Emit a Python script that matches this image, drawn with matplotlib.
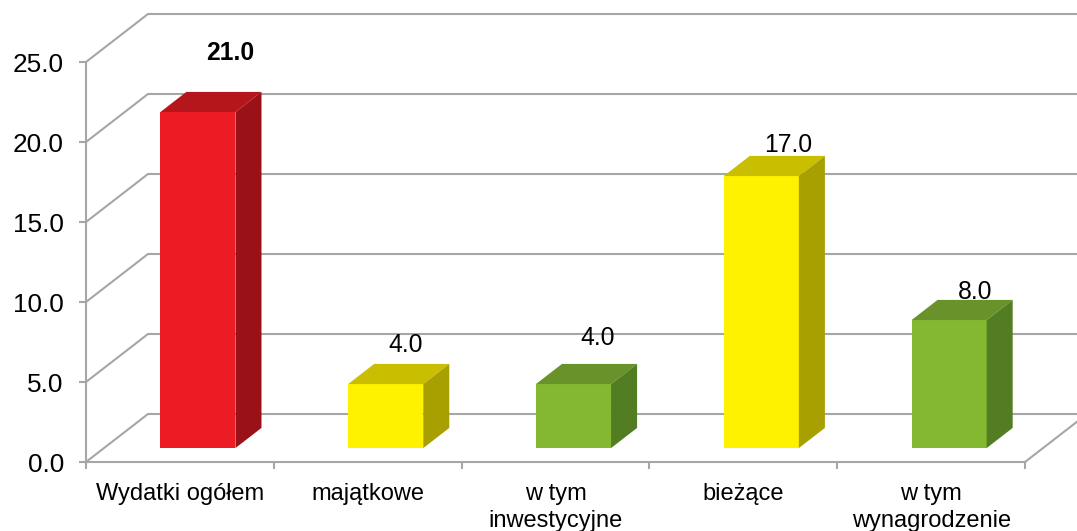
import matplotlib
matplotlib.use("Agg")
import matplotlib.pyplot as plt
from matplotlib.patches import Polygon
from matplotlib.ticker import FixedLocator

categories = ["Wydatki ogółem", "majątkowe", "w tym\ninwestycyjne", "bieżące", "w tym\nwynagrodzenie"]
values = [21.0, 4.0, 4.0, 17.0, 8.0]
value_labels = ["21.0", "4.0", "4.0", "17.0", "8.0"]
yticks = [0, 5, 10, 15, 20, 25]
ytick_labels = ["0.0", "5.0", "10.0", "15.0", "20.0", "25.0"]

# colours: (front, top, side)
palette = {
    "red": ("#ED1C24", "#B5161C", "#9A1218"),
    "yellow": ("#FFF200", "#C9BF00", "#A89F00"),
    "green": ("#84B830", "#6A922A", "#527D22"),
}
bar_colors = ["red", "yellow", "green", "yellow", "green"]
label_bold = [True, False, False, False, False]
label_dx = [0.17, 0.105, 0.13, 0.145, 0.14]   # label offsets (category units)
label_dy = [3.7, 2.45, 2.85, 1.93, 1.78]     # label offsets (value units)

plt.rcParams["font.family"] = ["Liberation Sans", "DejaVu Sans"]

W, H = 1077, 531
fig = plt.figure(figsize=(W / 100, H / 100), dpi=100)
x0, x1, y0, y1 = 86, 1025, 62, 462
ax = fig.add_axes([x0 / W, (H - y1) / H, (x1 - x0) / W, (y1 - y0) / H])
ax.set_xlim(-0.5, len(categories) - 0.5)
ax.set_ylim(0, 25)

grid_c = "#A6A6A6"
lw = 1.5
# depth offset in data units (62 px right, 48 px up)
px_x = (x1 - x0) / len(categories)
px_y = (y1 - y0) / 25
DX = 62 / px_x
DY = 48 / px_y
xl, xr = -0.5, len(categories) - 0.5
xfar = xl + (W - x0) / px_x + 0.2

# walls / gridlines
for v in yticks:
    ax.plot([xl, xl + DX, xfar], [v, v + DY, v + DY], color=grid_c, lw=lw,
            clip_on=False, zorder=1, solid_capstyle="butt")
# floor right edge
ax.plot([xr, xr + DX], [0, DY], color=grid_c, lw=lw, clip_on=False, zorder=1)

# bars
bw = 0.4
f0, f1 = 0.29, 0.71
for i, (v, c) in enumerate(zip(values, bar_colors)):
    front, top, side = palette[c]
    ox, oy = f0 * DX, f0 * DY
    bx, by = (f1 - f0) * DX, (f1 - f0) * DY
    L = i - bw / 2 + ox
    R = i + bw / 2 + ox
    B = oy
    T = v + oy
    ax.add_patch(Polygon([(L, B), (R, B), (R, T), (L, T)], closed=True,
                         facecolor=front, edgecolor="none", zorder=3, clip_on=False))
    ax.add_patch(Polygon([(L, T), (R, T), (R + bx, T + by), (L + bx, T + by)], closed=True,
                         facecolor=top, edgecolor="none", zorder=3, clip_on=False))
    ax.add_patch(Polygon([(R, B), (R + bx, B + by), (R + bx, T + by), (R, T)], closed=True,
                         facecolor=side, edgecolor="none", zorder=3, clip_on=False))
    ax.text(i + label_dx[i] + ox, v + oy + label_dy[i], value_labels[i],
            ha="center", va="center", fontsize=17.8,
            fontweight="bold" if label_bold[i] else "normal", color="black", zorder=5)

# axes styling
for s in ["top", "right"]:
    ax.spines[s].set_visible(False)
for s in ["left", "bottom"]:
    ax.spines[s].set_color(grid_c)
    ax.spines[s].set_linewidth(lw)
    ax.spines[s].set_zorder(2)
ax.set_facecolor("none")
ax.set_yticks(yticks)
ax.set_yticklabels(ytick_labels)
for t in ax.get_yticklabels():
    t.set_y(t.get_position()[1])
ax.tick_params(axis="y", length=5, width=lw, color=grid_c, pad=11, labelsize=18.8)
ax.set_xticks(range(len(categories)))
ax.set_xticklabels(categories, linespacing=1.3)
ax.tick_params(axis="x", which="major", length=0, pad=15, labelsize=17)
ax.xaxis.set_minor_locator(FixedLocator([k - 0.5 for k in range(len(categories) + 1)]))
ax.tick_params(axis="x", which="minor", length=5, width=lw, color=grid_c)

fig.savefig("out.png", dpi=100, facecolor="white")
